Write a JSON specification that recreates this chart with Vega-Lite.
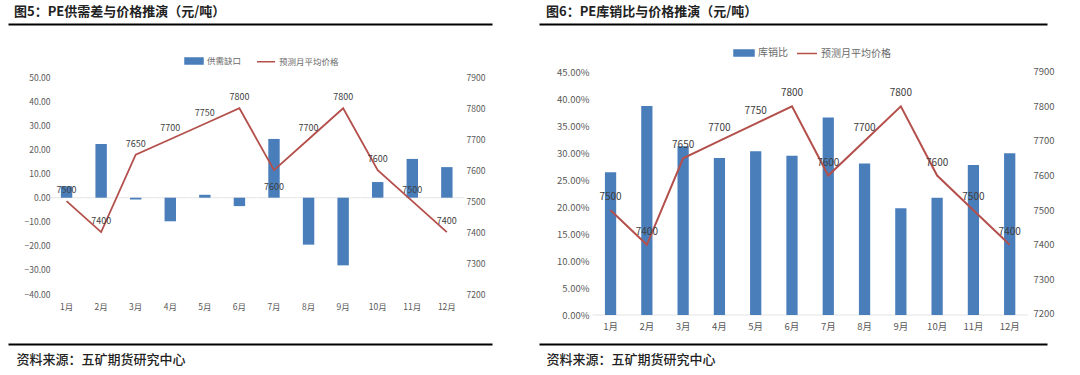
{
  "$schema": "https://vega.github.io/schema/vega-lite/v6.json",
  "background": "white",
  "padding": {"left": 8, "top": 6, "right": 0, "bottom": 0},
  "spacing": 47,
  "resolve": {"scale": {"color": "independent"}, "legend": {"color": "independent"}},
  "config": {
    "view": {"stroke": null},
    "font": "Noto Sans CJK SC",
    "axis": {"grid": false, "ticks": false, "tickSize": 0, "domain": false, "title": null, "labelFont": "Noto Sans CJK SC"}
  },
  "datasets": {
    "gap": [
      {"month": "1月", "gap": 4.7, "price": 7500},
      {"month": "2月", "gap": 22.3, "price": 7400},
      {"month": "3月", "gap": -0.8, "price": 7650},
      {"month": "4月", "gap": -9.8, "price": 7700},
      {"month": "5月", "gap": 1.2, "price": 7750},
      {"month": "6月", "gap": -3.5, "price": 7800},
      {"month": "7月", "gap": 24.4, "price": 7600},
      {"month": "8月", "gap": -19.5, "price": 7700},
      {"month": "9月", "gap": -28.1, "price": 7800},
      {"month": "10月", "gap": 6.5, "price": 7600},
      {"month": "11月", "gap": 16.1, "price": 7500},
      {"month": "12月", "gap": 12.7, "price": 7400}
    ],
    "ratio": [
      {"month": "1月", "ratio": 0.2645, "price": 7500},
      {"month": "2月", "ratio": 0.3875, "price": 7400},
      {"month": "3月", "ratio": 0.3127, "price": 7650},
      {"month": "4月", "ratio": 0.291, "price": 7700},
      {"month": "5月", "ratio": 0.3035, "price": 7750},
      {"month": "6月", "ratio": 0.295, "price": 7800},
      {"month": "7月", "ratio": 0.366, "price": 7600},
      {"month": "8月", "ratio": 0.281, "price": 7700},
      {"month": "9月", "ratio": 0.198, "price": 7800},
      {"month": "10月", "ratio": 0.2175, "price": 7600},
      {"month": "11月", "ratio": 0.278, "price": 7500},
      {"month": "12月", "ratio": 0.300, "price": 7400}
    ]
  },
  "hconcat": [
    {
      "width": 484,
      "height": 320,
      "title": {"text": "图5：PE供需差与价格推演（元/吨）", "anchor": "start", "dx": 6, "offset": 5, "fontSize": 13, "fontWeight": "bold", "color": "#222222", "font": "Noto Sans CJK SC"},
      "data": {"name": "gap"},
      "encoding": {
        "x": {"field": "month", "type": "nominal", "sort": null,
              "scale": {"paddingInner": 0, "paddingOuter": 1.298, "align": 0.597}}
      },
      "resolve": {"scale": {"y": "independent"}, "axis": {"x": "independent", "y": "independent"}},
      "layer": [
        {
          "mark": {"type": "tick", "size": 34, "thickness": 1, "color": "#d9d9d9"},
          "encoding": {
            "x": {"field": "month", "type": "nominal", "sort": null,
                  "axis": {"orient": "bottom", "labels": false, "domain": true, "domainColor": "#000000", "domainWidth": 2,
                           "title": "资料来源：五矿期货研究中心", "titleX": 8, "titleY": 15, "titleAlign": "left", "titleBaseline": "middle",
                           "titleFontSize": 13, "titleFontWeight": 500, "titleColor": "#222222", "titleFont": "Noto Sans CJK SC"}},
            "y": {"datum": 0, "type": "quantitative", "scale": {"domain": [-60.76, 72.13], "nice": false, "zero": false}, "axis": null}
          }
        },
        {
          "mark": {"type": "bar", "width": {"band": 0.33}},
          "encoding": {
            "x": {"field": "month", "type": "nominal", "sort": null,
                  "axis": {"orient": "bottom", "offset": -38, "labelAngle": 0, "labelBaseline": "middle", "labelPadding": 0,
                           "labelFontSize": 8.5, "labelColor": "#595959"}},
            "y": {"field": "gap", "type": "quantitative", "scale": {"domain": [-60.76, 72.13], "nice": false, "zero": false},
                  "axis": {"orient": "left", "offset": -46, "labelPadding": 4, "values": [-40, -30, -20, -10, 0, 10, 20, 30, 40, 50],
                           "format": ".2f", "labelFontSize": 8.5, "labelColor": "#595959"}},
            "color": {"datum": "供需缺口", "type": "nominal",
                      "scale": {"domain": ["供需缺口", "预测月平均价格"], "range": ["#4A7EBB", "#B4504C"]},
                      "legend": {"title": null, "orient": "none", "legendX": 176, "legendY": 27, "direction": "horizontal",
                                 "labelFontSize": 8.5, "labelColor": "#6a6a6a", "labelOffset": 3, "columnPadding": 12, "symbolSize": 324,
                                 "encode": {"symbols": {"update": {
                                   "shape": {"signal": "datum.value === '预测月平均价格' ? 'M-1,0H1' : 'M-1,-0.33H1V0.33H-1Z'"},
                                   "fill": {"signal": "datum.value === '预测月平均价格' ? 'transparent' : '#4A7EBB'"},
                                   "stroke": {"signal": "datum.value === '预测月平均价格' ? '#B4504C' : 'transparent'"},
                                   "strokeWidth": {"value": 1.5}, "opacity": {"value": 1}}}}}}
          }
        },
        {
          "mark": {"type": "line", "strokeWidth": 1.8},
          "encoding": {
            "x": {"field": "month", "type": "nominal", "sort": null, "axis": null},
            "y": {"field": "price", "type": "quantitative", "scale": {"domain": [7038.5, 8072.2], "nice": false, "zero": false},
                  "axis": {"orient": "right", "offset": -30, "labelPadding": 4, "values": [7200, 7300, 7400, 7500, 7600, 7700, 7800, 7900],
                           "format": "d", "labelFontSize": 8.5, "labelColor": "#595959"}},
            "color": {"datum": "预测月平均价格", "type": "nominal"}
          }
        },
        {
          "transform": [{"filter": "datum.month !== '7月'"}],
          "mark": {"type": "text", "dy": -11, "fontSize": 9, "color": "#404040"},
          "encoding": {
            "x": {"field": "month", "type": "nominal", "sort": null,
                  "axis": {"orient": "top", "labels": false, "domain": true, "domainColor": "#000000", "domainWidth": 2}},
            "y": {"field": "price", "type": "quantitative", "scale": {"domain": [7038.5, 8072.2], "nice": false, "zero": false}, "axis": null},
            "text": {"field": "price", "type": "quantitative", "format": "d"}
          }
        },
        {
          "transform": [{"filter": "datum.month === '7月'"}],
          "mark": {"type": "text", "dy": 17, "fontSize": 9, "color": "#404040"},
          "encoding": {
            "x": {"field": "month", "type": "nominal", "sort": null, "axis": null},
            "y": {"field": "price", "type": "quantitative", "scale": {"domain": [7038.5, 8072.2], "nice": false, "zero": false}, "axis": null},
            "text": {"field": "price", "type": "quantitative", "format": "d"}
          }
        }
      ]
    },
    {
      "width": 508,
      "height": 320,
      "title": {"text": "图6：PE库销比与价格推演（元/吨）", "anchor": "start", "dx": 7, "offset": 5, "fontSize": 13, "fontWeight": "bold", "color": "#222222", "font": "Noto Sans CJK SC"},
      "data": {"name": "ratio"},
      "encoding": {
        "x": {"field": "month", "type": "nominal", "sort": null,
              "scale": {"paddingInner": 0, "paddingOuter": 1.128, "align": 0.736}}
      },
      "resolve": {"scale": {"y": "independent"}, "axis": {"x": "independent", "y": "independent"}},
      "layer": [
        {
          "mark": {"type": "tick", "size": 36, "thickness": 1, "color": "#d9d9d9"},
          "encoding": {
            "x": {"field": "month", "type": "nominal", "sort": null,
                  "axis": {"orient": "bottom", "labels": false, "domain": true, "domainColor": "#000000", "domainWidth": 2,
                           "title": "资料来源：五矿期货研究中心", "titleX": 7, "titleY": 15, "titleAlign": "left", "titleBaseline": "middle",
                           "titleFontSize": 13, "titleFontWeight": 500, "titleColor": "#222222", "titleFont": "Noto Sans CJK SC"}},
            "y": {"datum": 0, "type": "quantitative", "scale": {"domain": [-0.0537, 0.5394], "nice": false, "zero": false}, "axis": null}
          }
        },
        {
          "mark": {"type": "bar", "width": {"band": 0.31}},
          "encoding": {
            "x": {"field": "month", "type": "nominal", "sort": null,
                  "axis": {"orient": "bottom", "offset": -18, "labelAngle": 0, "labelBaseline": "middle", "labelPadding": 0,
                           "labelFontSize": 9.5, "labelColor": "#595959"}},
            "y": {"field": "ratio", "type": "quantitative", "scale": {"domain": [-0.0537, 0.5394], "nice": false, "zero": false},
                  "axis": {"orient": "left", "offset": -54, "labelPadding": 4, "values": [0, 0.05, 0.1, 0.15, 0.2, 0.25, 0.3, 0.35, 0.4, 0.45],
                           "format": ".2%", "labelFontSize": 9.5, "labelColor": "#595959"}},
            "color": {"datum": "库销比", "type": "nominal",
                      "scale": {"domain": ["库销比", "预测月平均价格"], "range": ["#4A7EBB", "#B4504C"]},
                      "legend": {"title": null, "orient": "none", "legendX": 194, "legendY": 18, "direction": "horizontal",
                                 "labelFontSize": 10, "labelColor": "#6a6a6a", "labelOffset": 3, "columnPadding": 6, "symbolSize": 400,
                                 "encode": {"symbols": {"update": {
                                   "shape": {"signal": "datum.value === '预测月平均价格' ? 'M-1,0H1' : 'M-1,-0.3H1V0.3H-1Z'"},
                                   "fill": {"signal": "datum.value === '预测月平均价格' ? 'transparent' : '#4A7EBB'"},
                                   "stroke": {"signal": "datum.value === '预测月平均价格' ? '#B4504C' : 'transparent'"},
                                   "strokeWidth": {"value": 1.5}, "opacity": {"value": 1}}}}}}
          }
        },
        {
          "mark": {"type": "line", "strokeWidth": 2},
          "encoding": {
            "x": {"field": "month", "type": "nominal", "sort": null, "axis": null},
            "y": {"field": "price", "type": "quantitative", "scale": {"domain": [7113.3, 8037.9], "nice": false, "zero": false},
                  "axis": {"orient": "right", "offset": -18, "labelPadding": 4, "values": [7200, 7300, 7400, 7500, 7600, 7700, 7800, 7900],
                           "format": "d", "labelFontSize": 9.5, "labelColor": "#595959"}},
            "color": {"datum": "预测月平均价格", "type": "nominal"}
          }
        },
        {
          "mark": {"type": "text", "dy": -13, "fontSize": 10, "color": "#404040"},
          "encoding": {
            "x": {"field": "month", "type": "nominal", "sort": null,
                  "axis": {"orient": "top", "labels": false, "domain": true, "domainColor": "#000000", "domainWidth": 2}},
            "y": {"field": "price", "type": "quantitative", "scale": {"domain": [7113.3, 8037.9], "nice": false, "zero": false}, "axis": null},
            "text": {"field": "price", "type": "quantitative", "format": "d"}
          }
        }
      ]
    }
  ]
}
